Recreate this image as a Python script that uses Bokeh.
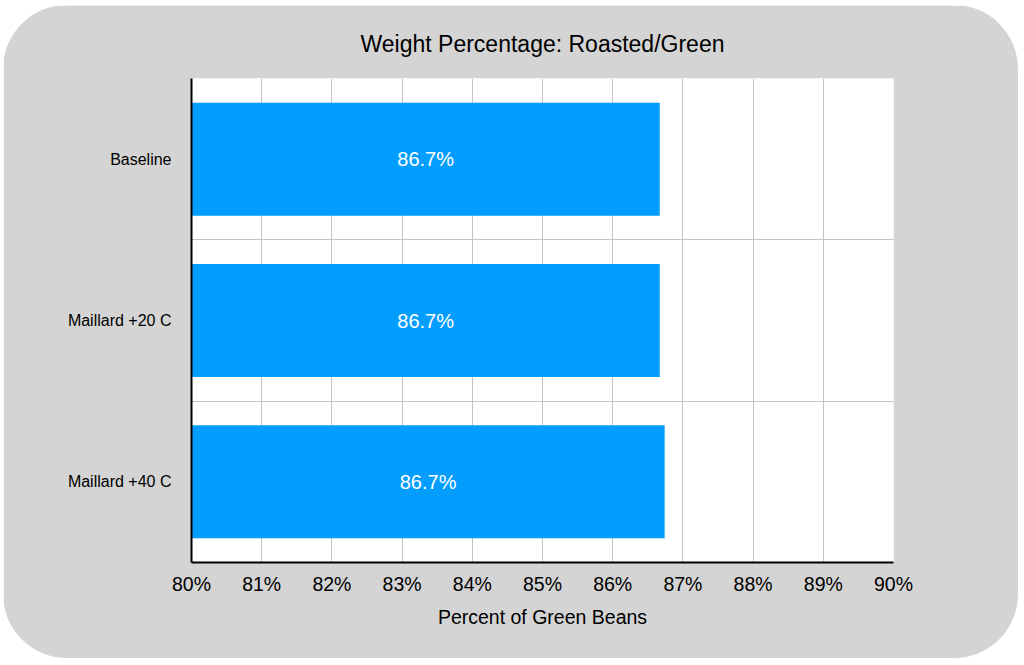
from bokeh.embed import file_html
from bokeh.resources import INLINE
from bokeh.plotting import figure
from bokeh.models import ColumnDataSource, FixedTicker, Range1d
from bokeh.core.properties import value

# data
groups = ["Baseline", "Maillard +20 C", "Maillard +40 C"]
pct = [86.67, 86.67, 86.74]
labels = ["86.7%", "86.7%", "86.7%"]

FONT = "Liberation Sans"
BG = "#d4d4d4"

x_start = 80
x_end = 90

# top-to-bottom order: first group at the top
ypos = [len(groups) - 1 - i + 0.5 for i in range(len(groups))]

src = ColumnDataSource(data=dict(
    y=ypos,
    pct=pct,
    left=[x_start] * len(pct),
    mid=[(x_start + v) / 2 for v in pct],
    label=labels,
))

p = figure(x_range=Range1d(x_start, x_end), y_range=Range1d(0, len(groups)),
           width=1015, height=653, output_backend="svg", toolbar_location=None,
           title="Weight Percentage: Roasted/Green",
           min_border_left=188, min_border_right=125,
           min_border_top=73, min_border_bottom=96)

p.background_fill_color = "white"
p.border_fill_color = BG
p.outline_line_color = None
p.styles = {"border-radius": "64px", "overflow": "hidden",
            "margin-left": "3px", "margin-top": "5px"}

p.hbar(y="y", left="left", right="pct", height=0.7, source=src,
       fill_color="#039dfd", line_color=None)
p.text(x="mid", y="y", text="label", source=src,
       text_color="white", text_font=value(FONT), text_font_size="20px",
       text_align="center", text_baseline="middle")

p.title.align = "center"
p.title.text_font = FONT
p.title.text_font_size = "23px"
p.title.text_font_style = "normal"
p.title.text_color = "black"
p.title.standoff = 44

p.xaxis.ticker = FixedTicker(ticks=list(range(x_start, x_end + 1)))
p.xaxis.major_label_overrides = {t: f"{t}%" for t in range(x_start, x_end + 1)}
p.xaxis.axis_label = "Percent of Green Beans"
p.xaxis.axis_label_text_font = FONT
p.xaxis.axis_label_text_font_size = "19.5px"
p.xaxis.axis_label_text_font_style = "normal"
p.xaxis.axis_label_text_color = "black"
p.xaxis.axis_label_standoff = 8
p.xaxis.major_label_text_font = FONT
p.xaxis.major_label_text_font_size = "19.5px"
p.xaxis.major_label_standoff = 4

p.yaxis.ticker = FixedTicker(ticks=ypos)
p.yaxis.major_label_overrides = {y: g for y, g in zip(ypos, groups)}
p.yaxis.major_label_text_font = FONT
p.yaxis.major_label_text_font_size = "16px"
p.yaxis.major_label_standoff = 14

for ax in (p.xaxis, p.yaxis):
    ax.axis_line_color = "black"
    ax.axis_line_width = 2
    ax.major_tick_line_color = None
    ax.minor_tick_line_color = None
    ax.major_label_text_color = "black"

p.xgrid.ticker = FixedTicker(ticks=list(range(x_start, x_end + 1)))
p.xgrid.grid_line_color = "#c4c4c4"
p.ygrid.ticker = FixedTicker(ticks=list(range(1, len(groups))))
p.ygrid.grid_line_color = "#c4c4c4"

open("out.html", "w").write(file_html(p, INLINE))
